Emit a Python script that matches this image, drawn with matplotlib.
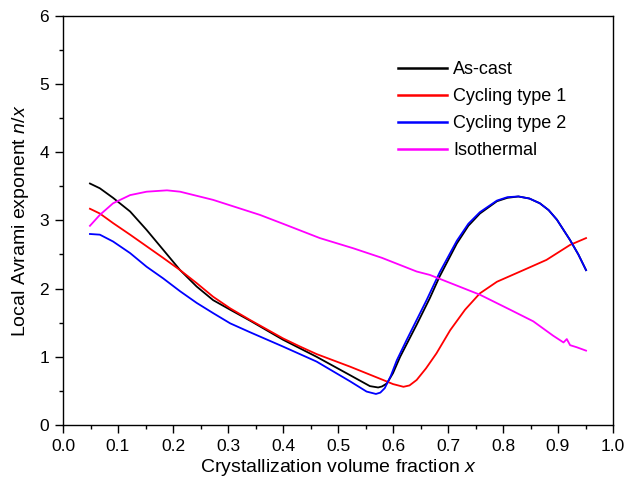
import numpy as np
import matplotlib
matplotlib.use('Agg')
import matplotlib.pyplot as plt
from matplotlib.ticker import MultipleLocator

plt.rcParams['font.family'] = ['Liberation Sans', 'DejaVu Sans']
plt.rcParams['mathtext.fontset'] = 'custom'
plt.rcParams['mathtext.rm'] = 'Liberation Sans'
plt.rcParams['mathtext.it'] = 'Liberation Sans:italic'

# values
x_ascast = [0.049, 0.067, 0.091, 0.122, 0.152, 0.182, 0.213, 0.243, 0.273, 0.304,
            0.34, 0.40, 0.461, 0.522, 0.54, 0.558, 0.573, 0.58, 0.589, 0.60,
            0.613, 0.643, 0.667, 0.685, 0.716, 0.737, 0.758, 0.789, 0.808, 0.828,
            0.848, 0.867, 0.883, 0.898, 0.922, 0.937, 0.951]
y_ascast = [3.54, 3.47, 3.33, 3.13, 2.86, 2.57, 2.27, 2.03, 1.83, 1.69,
            1.53, 1.25, 1.00, 0.73, 0.65, 0.57, 0.55, 0.565, 0.61, 0.76,
            1.00, 1.47, 1.86, 2.18, 2.66, 2.92, 3.10, 3.28, 3.33, 3.35,
            3.32, 3.25, 3.15, 3.01, 2.71, 2.50, 2.27]

x_cyc1 = [0.049, 0.067, 0.091, 0.122, 0.152, 0.182, 0.213, 0.243, 0.273, 0.304,
          0.34, 0.40, 0.431, 0.461, 0.522, 0.582, 0.60, 0.619, 0.63, 0.643,
          0.66, 0.679, 0.704, 0.731, 0.758, 0.789, 0.837, 0.879, 0.922, 0.951]
y_cyc1 = [3.17, 3.10, 2.96, 2.79, 2.62, 2.45, 2.27, 2.08, 1.88, 1.71,
          1.54, 1.27, 1.15, 1.04, 0.855, 0.66, 0.60, 0.56, 0.58, 0.66,
          0.83, 1.05, 1.39, 1.69, 1.93, 2.10, 2.27, 2.42, 2.64, 2.74]

x_cyc2 = [0.049, 0.067, 0.091, 0.122, 0.152, 0.182, 0.213, 0.243, 0.273, 0.304,
          0.34, 0.40, 0.461, 0.522, 0.538, 0.552, 0.569, 0.577, 0.585, 0.596,
          0.607, 0.625, 0.643, 0.661, 0.685, 0.716, 0.737, 0.758, 0.789, 0.808,
          0.828, 0.848, 0.867, 0.883, 0.898, 0.922, 0.937, 0.951]
y_cyc2 = [2.80, 2.79, 2.69, 2.52, 2.32, 2.15, 1.96, 1.79, 1.64, 1.49,
          1.36, 1.15, 0.93, 0.64, 0.56, 0.49, 0.455, 0.475, 0.54, 0.72,
          0.95, 1.25, 1.54, 1.83, 2.24, 2.70, 2.95, 3.12, 3.29, 3.34,
          3.35, 3.32, 3.25, 3.15, 3.01, 2.71, 2.50, 2.27]

x_iso = [0.049, 0.067, 0.091, 0.122, 0.152, 0.189, 0.213, 0.273, 0.358, 0.40,
         0.467, 0.528, 0.58, 0.643, 0.667, 0.758, 0.813, 0.855, 0.891, 0.91,
         0.916, 0.922, 0.934, 0.951]
y_iso = [2.92, 3.08, 3.25, 3.37, 3.42, 3.44, 3.42, 3.30, 3.08, 2.95,
         2.74, 2.59, 2.45, 2.25, 2.20, 1.91, 1.69, 1.52, 1.31, 1.21,
         1.26, 1.17, 1.14, 1.09]

series = [
    (x_ascast, y_ascast, 'black', 'As-cast'),
    (x_cyc1, y_cyc1, 'red', 'Cycling type 1'),
    (x_cyc2, y_cyc2, 'blue', 'Cycling type 2'),
    (x_iso, y_iso, 'magenta', 'Isothermal'),
]

fig = plt.figure(figsize=(6.28, 4.82), dpi=100)
ax = fig.add_axes([63 / 628, 57 / 482, 550 / 628, 409.3 / 482])

for xs, ys, color, label in series:
    ax.plot(np.array(xs), np.array(ys), color=color, lw=1.3, label=label)

ax.set_xlim(0, 1.0)
ax.set_ylim(0, 6)
ax.xaxis.set_major_locator(MultipleLocator(0.1))
ax.xaxis.set_minor_locator(MultipleLocator(0.05))
ax.yaxis.set_major_locator(MultipleLocator(1))
ax.yaxis.set_minor_locator(MultipleLocator(0.5))
ax.xaxis.set_major_formatter(matplotlib.ticker.FormatStrFormatter('%.1f'))

ax.tick_params(which='both', direction='out', top=False, right=False, width=1, labelsize=12.5)
ax.tick_params(which='major', length=6, pad=4)
ax.tick_params(which='minor', length=3)
for sp in ax.spines.values():
    sp.set_linewidth(1)

ax.set_xlabel('Crystallization volume fraction $x$', fontsize=14, labelpad=2)
ax.set_ylabel('Local Avrami exponent $n/x$', fontsize=14, labelpad=6)

leg = ax.legend(loc='upper left', bbox_to_anchor=(0.609, 0.889), frameon=False,
                fontsize=13, handlelength=2.7, handletextpad=0.35,
                labelspacing=0.55, borderpad=0, borderaxespad=0)
for h in leg.get_lines():
    h.set_linewidth(1.8)

fig.savefig('out.png', dpi=100)
